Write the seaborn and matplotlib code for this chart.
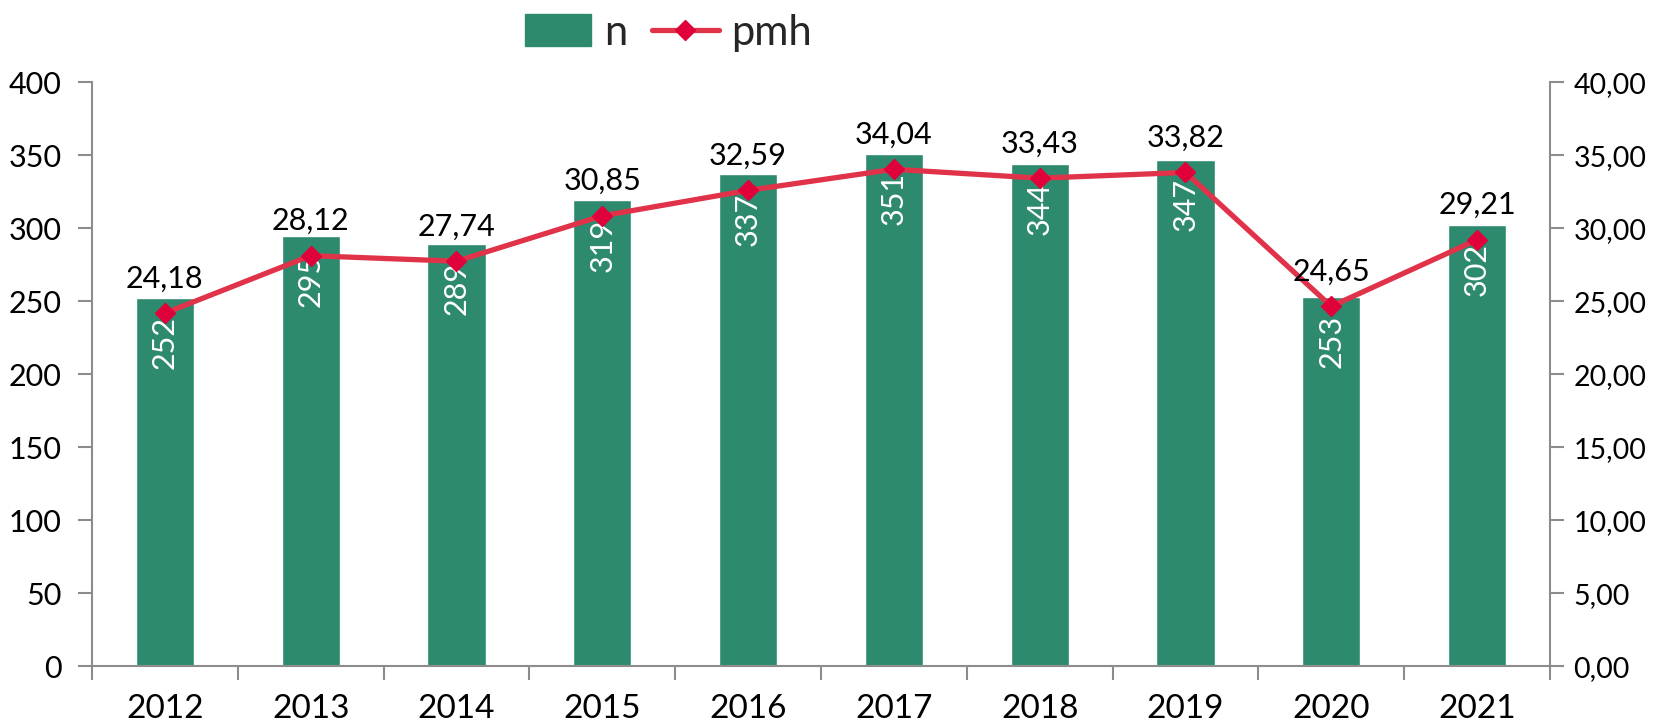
import matplotlib
matplotlib.use("Agg")
import matplotlib.pyplot as plt
import matplotlib.ticker as mticker
from matplotlib.lines import Line2D
from matplotlib.patches import Patch
import seaborn as sns
import pandas as pd

years = ["2012", "2013", "2014", "2015", "2016", "2017", "2018", "2019", "2020", "2021"]
n_values = [252, 295, 289, 319, 337, 351, 344, 347, 253, 302]
pmh_values = [24.18, 28.12, 27.74, 30.85, 32.59, 34.04, 33.43, 33.82, 24.65, 29.21]

BAR_COLOR = "#2E8A6E"
LINE_COLOR = "#E0334A"
MARKER_COLOR = "#E0003A"
AXIS_COLOR = "#8C8C8C"

sns.set_theme(style="white")
plt.rcParams["font.family"] = ["Lato", "DejaVu Sans"]

df = pd.DataFrame({"year": years, "n": n_values, "pmh": pmh_values})

fig = plt.figure(figsize=(16.54, 7.28), dpi=100)
ax = fig.add_axes([0.0556, 0.085, 0.8815, 0.802])

sns.barplot(data=df, x="year", y="n", color=BAR_COLOR, width=0.4,
            saturation=1, ax=ax, zorder=2)

ax2 = ax.twinx()
xpos = list(range(len(years)))
ax2.plot(xpos, df["pmh"], color=LINE_COLOR, lw=3.8, zorder=3,
         marker="D", markersize=10, markerfacecolor=MARKER_COLOR,
         markeredgecolor=MARKER_COLOR, solid_capstyle="round")

ax.set_ylim(0, 400)
ax2.set_ylim(0, 40)
ax.set_xlim(-0.5, len(years) - 0.5)
ax.set_yticks(range(0, 401, 50))
ax2.set_yticks(range(0, 41, 5))
ax2.yaxis.set_major_formatter(mticker.FuncFormatter(lambda v, p: f"{v:.2f}".replace(".", ",")))

ax.set_xlabel("")
ax.set_ylabel("")

# category boundaries as tick marks, labels centred
ax.set_xticks(xpos)
ax.set_xticks([i - 0.5 for i in range(len(years) + 1)], minor=True)
ax.tick_params(axis="x", which="major", length=0, pad=20, labelsize=24, labelcolor="black")
ax.tick_params(axis="x", which="minor", length=10, width=1.5, color=AXIS_COLOR, direction="out", bottom=True)
ax.tick_params(axis="y", length=10, width=1.5, color=AXIS_COLOR, direction="out", left=True, pad=12,
               labelsize=22, labelcolor="black")
ax2.tick_params(axis="y", length=10, width=1.5, color=AXIS_COLOR, direction="out", right=True, pad=7,
                labelsize=20.5, labelcolor="black")

for a in (ax, ax2):
    a.spines["top"].set_visible(False)
    for s in ("left", "right", "bottom"):
        a.spines[s].set_color(AXIS_COLOR)
        a.spines[s].set_linewidth(1.5)
ax.spines["right"].set_visible(False)
ax2.spines["left"].set_visible(False)
ax2.spines["bottom"].set_visible(False)

# bar labels, white and rotated inside bar top
for x, v in zip(xpos, df["n"]):
    ax.annotate(f"{v}", (x, v), xytext=(0, -13), textcoords="offset points",
                ha="center", va="top", rotation=90, color="white", fontsize=22, zorder=4)

# line labels above points
for x, v in zip(xpos, df["pmh"]):
    ax2.annotate(f"{v:.2f}".replace(".", ","), (x, v), xytext=(0, 15), textcoords="offset points",
                 ha="center", va="bottom", color="black", fontsize=22, zorder=5)

handles = [
    Patch(facecolor=BAR_COLOR, edgecolor=BAR_COLOR, label="n"),
    Line2D([0], [0], color=LINE_COLOR, lw=3.8, marker="D", markersize=10,
           markerfacecolor=MARKER_COLOR, markeredgecolor=MARKER_COLOR, label="pmh"),
]
fig.legend(handles=handles, loc="center", bbox_to_anchor=(0.404, 0.955), ncol=2, frameon=False,
           fontsize=30, handlelength=1.6, handleheight=0.8, handletextpad=0.3, columnspacing=0.6)

fig.savefig("out.png", dpi=100)
